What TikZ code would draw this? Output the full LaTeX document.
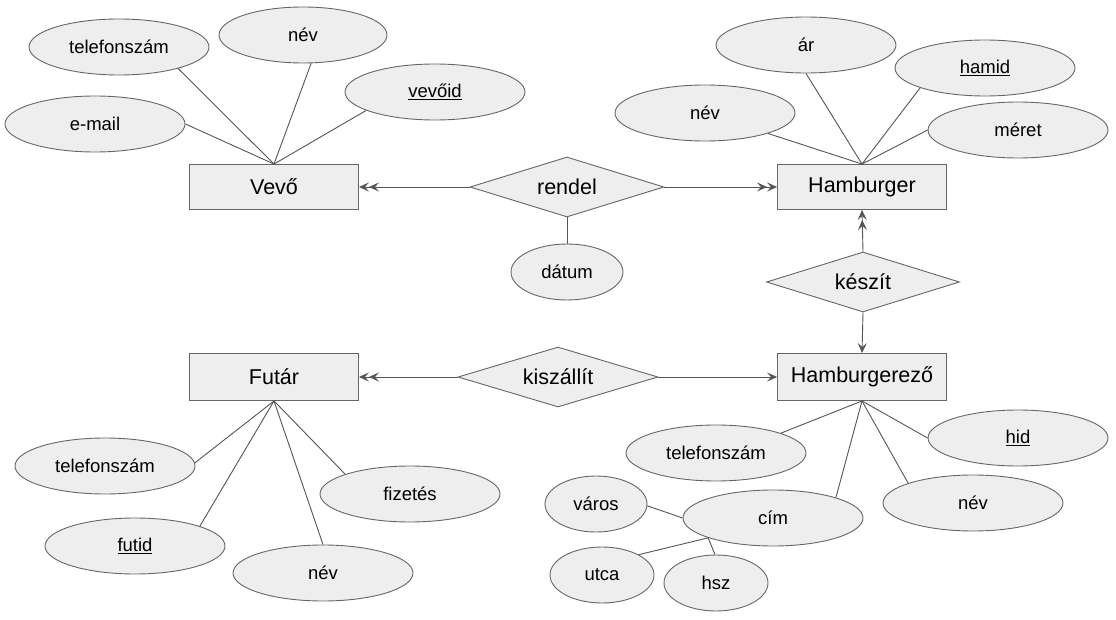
\documentclass[tikz,border=0pt]{standalone}
\usepackage{fontspec}
\setmainfont{Liberation Sans}
\usetikzlibrary{shapes.geometric,arrows.meta}
\definecolor{fillc}{HTML}{EEEEEE}
\definecolor{linec}{HTML}{666666}
\definecolor{edgec}{HTML}{555555}
\newcommand\keyattr[1]{\underline{#1}}
\begin{document}
\begin{tikzpicture}[x=1pt,y=-1pt,
 attr/.style={ellipse,draw=linec,fill=fillc,line width=0.9pt,minimum width=180pt,minimum height=56pt,inner sep=0pt,font=\fontsize{18.5}{20}\selectfont},
 ent/.style={rectangle,draw=linec,fill=fillc,line width=0.9pt,minimum width=169pt,minimum height=45pt,inner sep=0pt,font=\fontsize{21.5}{24}\selectfont},
 rel/.style={diamond,aspect=3.2,draw=linec,fill=fillc,line width=0.9pt,minimum width=194pt,minimum height=60pt,inner sep=0pt,font=\fontsize{21.5}{24}\selectfont},
 link/.style={draw=edgec,line width=0.9pt},
 dbl/.style={link,-{Stealth[length=10pt,width=9pt,inset=4pt]Stealth[length=10pt,width=9pt,inset=4pt]}},
 sgl/.style={link,-{Stealth[length=10pt,width=9pt,inset=4pt]}}
]
\useasboundingbox (0,0) rectangle (1116,620);

% entities
\node[ent] (vevo) at (274,187) {Vevő};
\node[ent] (hamb) at (862,187) {Hamburger};
\node[ent,minimum height=47pt] (futar) at (274,377) {Futár};
\node[ent,minimum height=47pt] (hz) at (862,377) {Hamburgerező};

% relationships
\node[rel] (rendel) at (567,187) {rendel};
\node[rel,minimum width=193pt] (keszit) at (863,282) {készít};
\node[rel,minimum width=200pt] (kisz) at (558,377) {kiszállít};

% Vevő attributes
\node[attr] (vtel) at (119,47) {telefonszám};
\node[attr,minimum width=168pt] (vnev) at (303,35) {név};
\node[attr] (vid) at (435,92) {\keyattr{vevőid}};
\node[attr] (vmail) at (95,124) {e-mail};

% dátum
\node[attr,minimum width=112pt] (datum) at (567,272) {dátum};

% Hamburger attributes
\node[attr] (har) at (806,45) {ár};
\node[attr] (hid) at (985,68) {\keyattr{hamid}};
\node[attr] (hnev) at (705,113) {név};
\node[attr] (hmer) at (1018,130) {méret};

% Futár attributes
\node[attr] (ftel) at (105,466) {telefonszám};
\node[attr] (fid) at (135,546) {\keyattr{futid}};
\node[attr] (fnev) at (323,573) {név};
\node[attr] (ffiz) at (410,494) {fizetés};

% Hamburgerező attributes
\node[attr] (ztel) at (716,453) {telefonszám};
\node[attr] (zid) at (1018,438) {\keyattr{hid}};
\node[attr] (znev) at (973,503) {név};
\node[attr] (zcim) at (773,518) {cím};
\node[attr,minimum width=102pt] (zvar) at (596,504) {város};
\node[attr,minimum width=104pt] (zutca) at (602,575) {utca};
\node[attr,minimum width=104pt] (zhsz) at (716,583) {hsz};

% attribute links
\draw[link] (vevo.north) -- (vtel.340);
\draw[link] (vevo.north) -- (vnev.286);
\draw[link] (vevo.north) -- (vid.195);
\draw[link] (vevo.north) -- (vmail.0);

\draw[link] (rendel.south) -- (datum.north);

\draw[link] (hamb.north) -- (har.270);
\draw[link] (hamb.north) -- (hid.197);
\draw[link] (hamb.north) -- (hnev.342);
\draw[link] (hamb.north) -- (hmer.180);

\draw[link] (futar.south) -- (ftel.2);
\draw[link] (futar.south) -- (fid.17);
\draw[link] (futar.south) -- (fnev.90);
\draw[link] (futar.south) -- (ffiz.163);

\draw[link] (hz.south) -- (ztel.17);
\draw[link] (hz.south) -- (zid.180);
\draw[link] (hz.south) -- (znev.163);
\draw[link] (hz.south) -- (zcim.18);

\draw[link] (zvar.358) -- (zcim.180);
\draw[link] (zutca.29) -- (zcim.197);
\draw[link] (zhsz.92) -- (zcim.197);

% relationship arrows
\draw[dbl] (rendel.west) -- (vevo.east);
\draw[dbl] (rendel.east) -- (hamb.west);
\draw[dbl] (keszit.north) -- (hamb.south);
\draw[sgl] (keszit.south) -- (hz.north);
\draw[dbl] (kisz.west) -- (futar.east);
\draw[sgl] (kisz.east) -- (hz.west);
\end{tikzpicture}
\end{document}
